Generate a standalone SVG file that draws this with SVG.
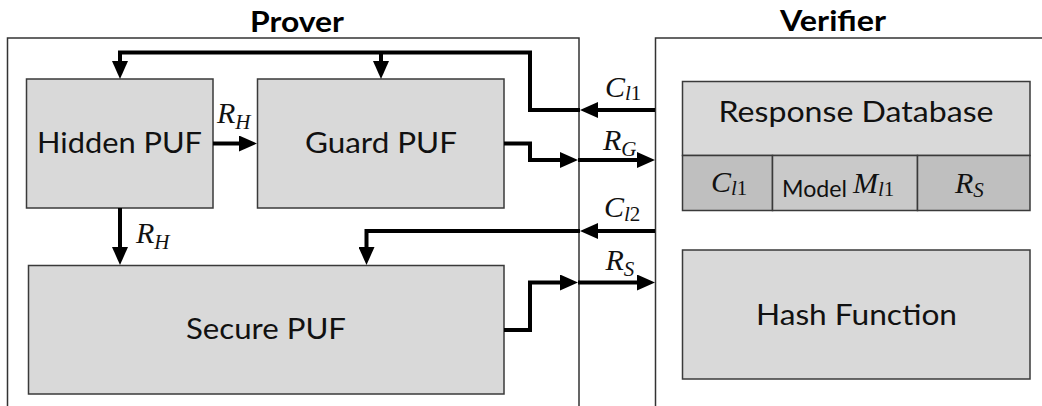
<svg xmlns="http://www.w3.org/2000/svg" width="1042" height="406" viewBox="0 0 1042 406">
<style>
.frame{fill:none;stroke:#333;stroke-width:1.5}
.box{fill:#d9d9d9;stroke:#3a3a3a;stroke-width:1.5}
.cellD{fill:#bfbfbf;stroke:#3a3a3a;stroke-width:1.5}
.cellL{fill:#c9c9c9;stroke:#3a3a3a;stroke-width:1.5}
.title{font-family:Lato,"Open Sans",sans-serif;font-weight:bold;font-size:28px;fill:#000}
.lbl{font-family:Lato,"Open Sans",sans-serif;font-size:28px;fill:#111}
.sm{font-family:Lato,"Open Sans",sans-serif;font-size:24px;fill:#111}
.m{font-family:"Liberation Serif","DejaVu Serif",serif;font-style:italic;font-size:30px;fill:#111}
.s{font-size:21px}
.n{font-style:normal}
.c{fill:none;stroke:#000;stroke-width:4;stroke-linejoin:miter}
</style>
<defs>
<marker id="ah" viewBox="0 0 18 16" refX="0" refY="8" markerWidth="18" markerHeight="16" markerUnits="userSpaceOnUse" orient="auto">
<path d="M0,0 L18,8 L0,16 z" fill="#000"/>
</marker>
</defs>

<g id="prover">
<path class="frame" d="M7.5,420 L7.5,38 L579,38 L579,420"/>
<text class="title" x="297" y="31.5" text-anchor="middle" textLength="94" lengthAdjust="spacingAndGlyphs">Prover</text>
</g>
<g id="verifier">
<path class="frame" d="M655.5,420 L655.5,38 L1050,38"/>
<text class="title" x="833" y="31" text-anchor="middle" textLength="106" lengthAdjust="spacingAndGlyphs">Verifier</text>
</g>

<g id="hidden-puf">
<rect class="box" x="26.5" y="79" width="186.5" height="129"/>
<text class="lbl" x="119.5" y="153" text-anchor="middle" textLength="165" lengthAdjust="spacingAndGlyphs">Hidden PUF</text>
</g>
<g id="guard-puf">
<rect class="box" x="257.5" y="79" width="246.5" height="129"/>
<text class="lbl" x="381" y="153" text-anchor="middle" textLength="152" lengthAdjust="spacingAndGlyphs">Guard PUF</text>
</g>
<g id="secure-puf">
<rect class="box" x="28.5" y="265.5" width="475.5" height="128.5"/>
<text class="lbl" x="266" y="339" text-anchor="middle" textLength="160" lengthAdjust="spacingAndGlyphs">Secure PUF</text>
</g>

<g id="response-database">
<rect class="box" x="682.5" y="81.5" width="347.5" height="74"/>
<text class="lbl" x="856" y="121.5" text-anchor="middle" textLength="275" lengthAdjust="spacingAndGlyphs">Response Database</text>
<rect class="cellD" x="682.5" y="155.5" width="90" height="55"/>
<rect class="cellL" x="772.5" y="155.5" width="145" height="55"/>
<rect class="cellD" x="917.5" y="155.5" width="112.5" height="55"/>
<text class="m" x="711" y="192">C<tspan class="s" dy="3">l<tspan class="n">1</tspan></tspan></text>
<text class="sm" x="782" y="197" textLength="65" lengthAdjust="spacingAndGlyphs">Model</text>
<text class="m" x="853" y="193">M<tspan class="s" dy="3">l<tspan class="n">1</tspan></tspan></text>
<text class="m" x="955" y="193">R<tspan class="s" dy="4">S</tspan></text>
</g>
<g id="hash-function">
<rect class="box" x="682.5" y="250" width="347.5" height="129"/>
<text class="lbl" x="856.5" y="325" text-anchor="middle" textLength="201" lengthAdjust="spacingAndGlyphs">Hash Function</text>
</g>

<g id="connectors">
<path class="c" d="M655,110 L598,110" marker-end="url(#ah)"/>
<path class="c" d="M580,110 L530,110 L530,52.5 L120,52.5 L120,61" marker-end="url(#ah)"/>
<path class="c" d="M381,52.5 L381,61" marker-end="url(#ah)"/>
<path class="c" d="M213,143.5 L239,143.5" marker-end="url(#ah)"/>
<path class="c" d="M120,208 L120,247" marker-end="url(#ah)"/>
<path class="c" d="M504,143.5 L530,143.5 L530,160 L560,160" marker-end="url(#ah)"/>
<path class="c" d="M578,160 L637,160" marker-end="url(#ah)"/>
<path class="c" d="M655,231 L598,231" marker-end="url(#ah)"/>
<path class="c" d="M580,231 L366.5,231 L366.5,247" marker-end="url(#ah)"/>
<path class="c" d="M504,330 L530,330 L530,282.5 L560,282.5" marker-end="url(#ah)"/>
<path class="c" d="M578,282.5 L637,282.5" marker-end="url(#ah)"/>
<text class="m" x="217" y="123">R<tspan class="s" dy="6">H</tspan></text>
<text class="m" x="136" y="243">R<tspan class="s" dy="6">H</tspan></text>
<text class="m" x="605" y="96.5">C<tspan class="s" dy="3">l<tspan class="n">1</tspan></tspan></text>
<text class="m" x="603" y="150">R<tspan class="s" dy="6">G</tspan></text>
<text class="m" x="604" y="216.5">C<tspan class="s" dy="4">l<tspan class="n">2</tspan></tspan></text>
<text class="m" x="605.5" y="270">R<tspan class="s" dy="6">S</tspan></text>
</g>
</svg>
